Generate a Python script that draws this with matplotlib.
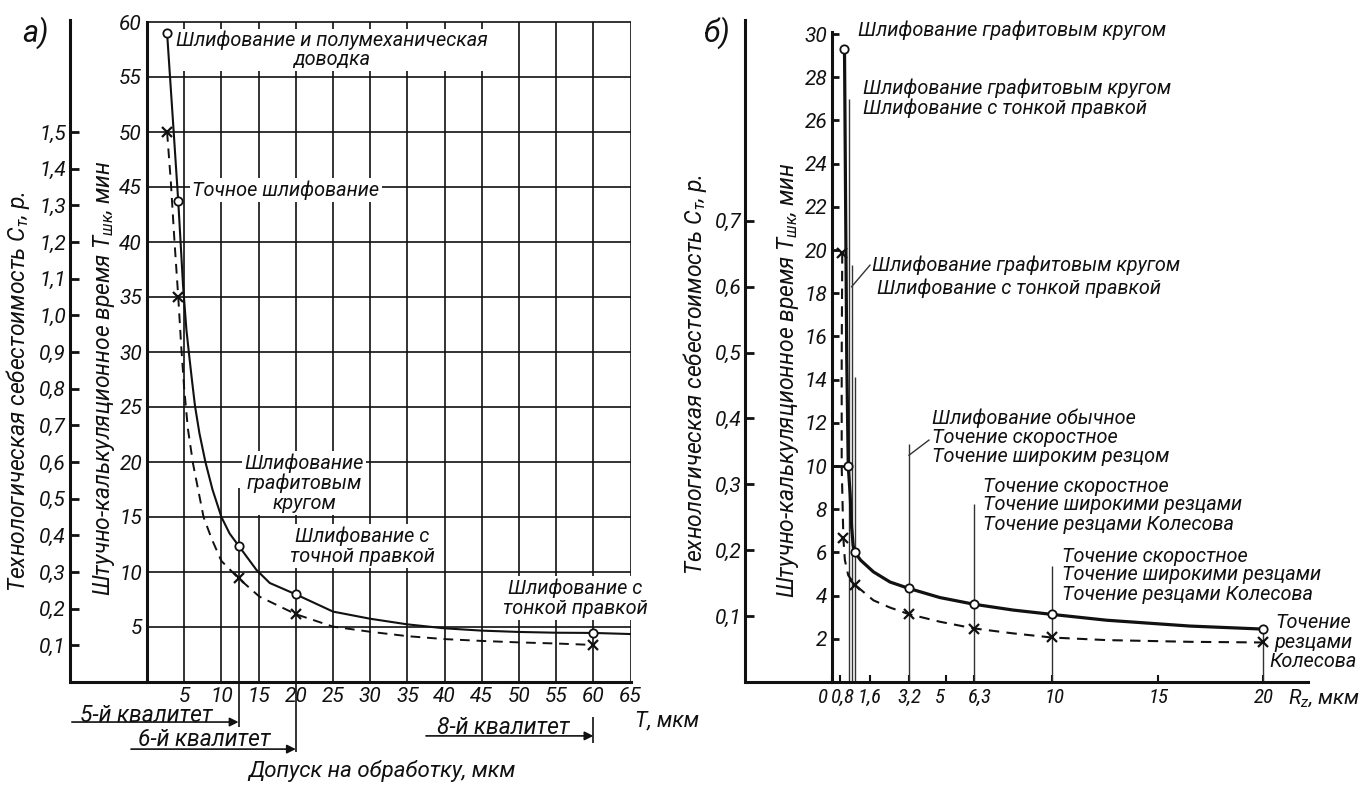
import numpy as np
import matplotlib
matplotlib.use("Agg")
import matplotlib.pyplot as plt
from matplotlib import font_manager as fm
import matplotlib.transforms as mtransforms

W, H, DPI = 1361, 785, 100

# ---------------- panel а: допуск T, мкм ----------------
tol_marks = [2.7, 4.2, 12.3, 20, 60]
time_marks_a = [59.0, 43.7, 12.4, 8.0, 4.46]      # Тшк, мин
cost_marks_a = [1.50, 1.05, 0.283, 0.185, 0.101]   # Ст, р.

tol_time_line = [2.7, 3.45, 4.2, 4.85, 5.3, 5.7, 6.05, 6.45, 7.05, 7.85, 8.8, 10.0, 11.1,
                 12.3, 14.7, 16.5, 20.0, 25, 30, 35, 40, 45, 50, 55, 60, 65]
time_line_a = [59.0, 51.4, 43.7, 36, 32, 29.5, 27.4, 25.1, 22.6, 20, 17.5, 15, 13.5,
               12.4, 10.2, 9.0, 7.97, 6.4, 5.75, 5.24, 4.88, 4.67, 4.55, 4.48, 4.46, 4.36]
tol_cost_line = [2.7, 3.2, 3.7, 4.2, 4.6, 5.0, 5.5, 6.2, 7.6, 8.7, 10.0, 12.3,
                 15.1, 20.0, 25, 30, 35, 40, 45, 50, 55, 60]
cost_line_a = [1.50, 1.365, 1.20, 1.05, 0.915, 0.80, 0.69, 0.594, 0.45, 0.39, 0.33, 0.283,
               0.233, 0.185, 0.151, 0.137, 0.125, 0.117, 0.112, 0.108, 0.105, 0.101]

time_ticks_a = list(range(5, 61, 5))
tol_ticks = list(range(5, 66, 5))
cost_ticks_a = [0.1, 0.2, 0.3, 0.4, 0.5, 0.6, 0.7, 0.8, 0.9, 1.0, 1.1, 1.2, 1.3, 1.4, 1.5]

# ---------------- panel б: шероховатость Rz, мкм ----------------
rz_time_marks = [0.92, 1.02, 1.19, 3.2, 6.3, 10, 20]
time_marks_b = [29.3, 10.0, 6.02, 4.33, 3.6, 3.13, 2.45]
rz_cost_marks = [0.86, 0.89, 1.19, 3.2, 6.3, 10, 20]
cost_marks_b = [0.651, 0.218, 0.148, 0.103, 0.081, 0.068, 0.060]

rz_time_line = [0.92, 0.95, 0.98, 1.02, 1.07, 1.11, 1.15, 1.19, 1.35, 1.74, 2.42, 3.2,
                4.7, 6.3, 8.16, 10, 12.58, 16.52, 20]
time_line_b = [29.3, 22, 15, 10.0, 8.7, 7.17, 6.33, 6.02, 5.64, 5.1, 4.63, 4.33,
               3.91, 3.6, 3.33, 3.13, 2.86, 2.59, 2.45]
rz_cost_line = [0.86, 0.845, 0.845, 0.89, 0.93, 1.02, 1.19, 1.74, 2.42, 3.2, 4.7, 6.3,
                8.16, 10, 12.58, 16.52, 20]
cost_line_b = [0.651, 0.492, 0.328, 0.218, 0.185, 0.162, 0.148, 0.124, 0.113, 0.103,
               0.0915, 0.0813, 0.0738, 0.0675, 0.0636, 0.061, 0.060]

rz_ticks = [0, 0.8, 1.6, 3.2, 5, 6.3, 10, 15, 20]
rz_labels = ["0", "0,8", "1,6", "3,2", "5", "6,3", "10", "15", "20"]
time_ticks_b = list(range(2, 31, 2))
cost_ticks_b = [0.1, 0.2, 0.3, 0.4, 0.5, 0.6, 0.7]

# leader lines in panel б (Rz, top of line in minutes)
leader_rz = [1.04, 1.11, 1.19, 3.2, 6.3, 10, 20]
leader_top = [27.0, 19.3, 14.1, 11.0, 8.24, 5.37, 2.45]

# hand-drawn Rz axis: label value -> horizontal position (px)
RZ_KNOTS = [0, 0.8, 1.6, 3.2, 5, 6.3, 10, 15, 20, 22.1]
PX_KNOTS = [832, 840, 870, 909, 946, 974, 1052, 1158, 1263, 1307.5]

# ---------------- fonts ----------------
avail = {f.name for f in fm.fontManager.ttflist}
FONT = next(n for n in ["Roboto", "Liberation Sans", "DejaVu Sans"] if n in avail)
FONT_NARROW = next(n for n in ["Roboto Condensed", "Liberation Sans Narrow", FONT] if n in avail)
plt.rcParams["font.family"] = [FONT, "DejaVu Sans"]
plt.rcParams["font.style"] = "italic"
plt.rcParams["mathtext.fontset"] = "custom"
plt.rcParams["mathtext.it"] = FONT + ":italic"
plt.rcParams["mathtext.rm"] = FONT + ":italic"
plt.rcParams["mathtext.default"] = "it"

TICK_FS = 15
NOTE_FS = 14.3
LABEL_FS = 16.5
LW_AX = 2.2
INK = "#111111"

fig = plt.figure(figsize=(W / DPI, H / DPI), dpi=DPI)


def add_axes_px(left, top, right, bottom):
    return fig.add_axes([left / W, 1 - bottom / H, (right - left) / W, (bottom - top) / H])


def ftext(ax, x, y, s, **kw):
    kw.setdefault("color", INK)
    return ax.text(x / W, 1 - y / H, s, transform=fig.transFigure, **kw)


mask = dict(fc="white", ec="none", pad=1.5)


def comma(v):
    return f"{v:.1f}".replace(".", ",")


def shift_labels(labels, shifts):
    for lab, dx in zip(labels, shifts):
        lab.set_transform(lab.get_transform()
                          + mtransforms.ScaledTranslation(dx / DPI, 0, fig.dpi_scale_trans))


def style_main(ax, inner_top):
    for s in ("top", "right"):
        ax.spines[s].set_visible(False)
    for s in ("left", "bottom"):
        ax.spines[s].set_linewidth(LW_AX)
        ax.spines[s].set_color(INK)
    ax.spines["left"].set_bounds(0, inner_top)
    ax.patch.set_visible(False)


def outer_axis(ax, ylim, ticks, offset_px):
    axc = ax.twinx()
    axc.set_ylim(*ylim)
    axc.yaxis.set_ticks_position("left")
    axc.spines["left"].set_visible(True)
    axc.spines["left"].set_position(("outward", offset_px * 72 / DPI))
    axc.spines["left"].set_linewidth(LW_AX)
    axc.spines["left"].set_color(INK)
    for s in ("top", "right", "bottom"):
        axc.spines[s].set_visible(False)
    axc.set_yticks(ticks)
    axc.set_yticklabels([comma(v) for v in ticks], fontsize=TICK_FS)
    axc.tick_params(axis="y", direction="in", length=6.5, width=2, pad=3, colors=INK)
    # bottom axis continues to the outer axis
    w_px = ax.get_position().width * W
    ax.plot([-offset_px / w_px, 0], [0, 0], transform=ax.transAxes, clip_on=False,
            color=INK, lw=LW_AX, solid_capstyle="butt")
    return axc


# ================= panel а =================
ax_a = add_axes_px(147, 19.8, 630.6, 682)
ax_a.set_xlim(0, 65)
ax_a.set_ylim(0, 60.2)
style_main(ax_a, 60)
ax_a.hlines(time_ticks_a, 0, 65, color=INK, lw=1.2, zorder=1)
ax_a.vlines(tol_ticks, 0, 60, color=INK, lw=1.2, zorder=1)
ax_a.set_xticks(tol_ticks)
ax_a.set_xticklabels([str(v) for v in tol_ticks], fontsize=TICK_FS)
ax_a.set_yticks(time_ticks_a)
ax_a.set_yticklabels([str(v) for v in time_ticks_a], fontsize=TICK_FS)
ax_a.tick_params(length=0, colors=INK)
ax_a.tick_params(axis="y", pad=3.6)
ax_a.tick_params(axis="x", pad=3.5)

ax_a.plot(tol_time_line, time_line_a, color=INK, lw=1.5, zorder=5)
ax_a.plot(tol_marks, time_marks_a, "o", ms=6, mfc="white", mec=INK, mew=1.3, zorder=6)

# leaders and tolerance arrows below the axis
ax_a.vlines([12.3], 0, 17.6, color=INK, lw=1.2, zorder=4)
ax_a.vlines([12.3, 20], [-4.1, -6.4], [0, 0], color=INK, lw=1.2, clip_on=False)
ax_a.vlines([60], [-5.5], [-3.2], color=INK, lw=1.2, clip_on=False)
arrow = dict(arrowstyle="-|>", lw=1.2, color=INK, shrinkA=0, shrinkB=0, mutation_scale=13)
for x0, x1, yy in [(-10.1, 12.3, -3.64), (-2.15, 20, -6.1), (37.5, 60, -4.9)]:
    ax_a.annotate("", xy=(x1, yy), xytext=(x0, yy), arrowprops=arrow, annotation_clip=False)

axc_a = outer_axis(ax_a, (0, 60.2 * 1.5 / 50), cost_ticks_a, 77)
axc_a.plot(tol_cost_line, cost_line_a, color=INK, lw=1.4, dashes=(5, 3.5), zorder=5)
axc_a.plot(tol_marks, cost_marks_a, "x", ms=7, mew=1.6, color=INK, zorder=6)

ftext(ax_a, 35, 33, "а)", fontsize=22, ha="center", va="center")
ftext(ax_a, 18, 392, "Технологическая себестоимость $C_{т}$, р.", fontsize=LABEL_FS,
      rotation=90, ha="center", va="center")
ftext(ax_a, 104, 378, "Штучно-калькуляционное время $T_{шк}$, мин", fontsize=LABEL_FS,
      rotation=90, ha="center", va="center")
ftext(ax_a, 332, 50, "Шлифование и полумеханическая\nдоводка", fontsize=NOTE_FS,
      ha="center", va="center", ma="center", linespacing=1.0, bbox=mask, zorder=3)
ftext(ax_a, 286, 190, "Точное шлифование", fontsize=NOTE_FS, ha="center", va="center",
      bbox=mask, zorder=3)
ftext(ax_a, 304, 483, "Шлифование\nграфитовым\nкругом", fontsize=NOTE_FS, ha="center",
      va="center", ma="center", linespacing=1.05, bbox=mask, zorder=3)
ftext(ax_a, 362, 546, "Шлифование с\nточной правкой", fontsize=NOTE_FS, ha="center",
      va="center", ma="center", linespacing=1.05, bbox=mask, zorder=3)
ftext(ax_a, 575, 598, "Шлифование с\nтонкой правкой", fontsize=NOTE_FS, ha="center",
      va="center", ma="center", linespacing=1.05, bbox=mask, zorder=3)
ftext(ax_a, 146, 715, "5-й квалитет", fontsize=16.5, ha="center", va="center")
ftext(ax_a, 204, 740, "6-й квалитет", fontsize=16.5, ha="center", va="center")
ftext(ax_a, 503, 727, "8-й квалитет", fontsize=16.5, ha="center", va="center")
ftext(ax_a, 635, 721, "T, мкм", fontsize=15.5, ha="left", va="center")
ftext(ax_a, 382, 771, "Допуск на обработку, мкм", fontsize=16, ha="center", va="center")


# ================= panel б =================
def rz_fwd(v):
    return np.interp(v, RZ_KNOTS, PX_KNOTS)


def rz_inv(p):
    return np.interp(p, PX_KNOTS, RZ_KNOTS)


ax_b = add_axes_px(832, 20, 1307.5, 682)
ax_b.set_xscale("function", functions=(rz_fwd, rz_inv))
ax_b.set_xlim(0, 22.1)
ax_b.set_ylim(0, 30.65)
style_main(ax_b, 30.1)
ax_b.set_xticks(rz_ticks)
ax_b.set_xticklabels(rz_labels, fontsize=15, fontfamily=FONT_NARROW)
ax_b.xaxis.set_minor_locator(matplotlib.ticker.NullLocator())
ax_b.set_yticks(time_ticks_b)
ax_b.set_yticklabels([str(v) for v in time_ticks_b], fontsize=TICK_FS)
ax_b.tick_params(direction="in", length=5, width=2, colors=INK)
ax_b.tick_params(axis="y", pad=3.5)
ax_b.tick_params(axis="x", width=1.5, pad=4)
shift_labels(ax_b.get_xticklabels(), [-9, 2.5, 0, 0, -6, 6, 3, 1, 1])

ax_b.vlines(leader_rz, 0, leader_top, color="#333333", lw=1.0, zorder=2)
ax_b.plot([1.11, 1.6], [18.3, 19.3], color="#333333", lw=1.0, zorder=2)
ax_b.plot([3.2, 4.17], [10.5, 11.2], color="#333333", lw=1.0, zorder=2)
ax_b.hlines(10, 0, 1.02, color=INK, lw=2, zorder=4)
ax_b.plot(rz_time_line, time_line_b, color=INK, lw=2.3, zorder=5)
ax_b.plot(rz_time_marks, time_marks_b, "o", ms=6, mfc="white", mec=INK, mew=1.3, zorder=6)

axc_b = outer_axis(ax_b, (0, 30.65 / 30.5), cost_ticks_b, 86.5)
axc_b.plot(rz_cost_line, cost_line_b, color=INK, lw=1.5, dashes=(5, 3.5), zorder=5)
axc_b.plot(rz_cost_marks, cost_marks_b, "x", ms=7, mew=1.6, color=INK, zorder=6)

ftext(ax_b, 717, 33, "б)", fontsize=22, ha="center", va="center")
ftext(ax_b, 695, 375, "Технологическая себестоимость $C_{т}$, р.", fontsize=LABEL_FS,
      rotation=90, ha="center", va="center")
ftext(ax_b, 788, 380, "Штучно-калькуляционное время $T_{шк}$, мин", fontsize=LABEL_FS,
      rotation=90, ha="center", va="center")
ftext(ax_b, 858, 30, "Шлифование графитовым кругом", fontsize=NOTE_FS, ha="left", va="center")
ftext(ax_b, 863, 98.5, "Шлифование графитовым кругом\nШлифование с тонкой правкой",
      fontsize=NOTE_FS, ha="left", va="center", linespacing=1.05)
ftext(ax_b, 872, 265, "Шлифование графитовым кругом", fontsize=NOTE_FS, ha="left", va="center")
ftext(ax_b, 877, 288, "Шлифование с тонкой правкой", fontsize=NOTE_FS, ha="left", va="center")
ftext(ax_b, 932, 437, "Шлифование обычное\nТочение скоростное\nТочение широким резцом",
      fontsize=NOTE_FS, ha="left", va="center", linespacing=1.0)
ftext(ax_b, 983, 505, "Точение скоростное\nТочение широкими резцами\nТочение резцами Колесова",
      fontsize=NOTE_FS, ha="left", va="center", linespacing=1.0)
ftext(ax_b, 1062, 575, "Точение скоростное\nТочение широкими резцами\nТочение резцами Колесова",
      fontsize=NOTE_FS, ha="left", va="center", linespacing=1.0)
ftext(ax_b, 1357, 642, "Точение\nрезцами\nКолесова", fontsize=NOTE_FS, ha="right",
      va="center", ma="center", linespacing=1.05)
ftext(ax_b, 1288, 698, "$R_z$, мкм", fontsize=15, ha="left", va="center")

fig.savefig("out.png", dpi=DPI, facecolor="white")
